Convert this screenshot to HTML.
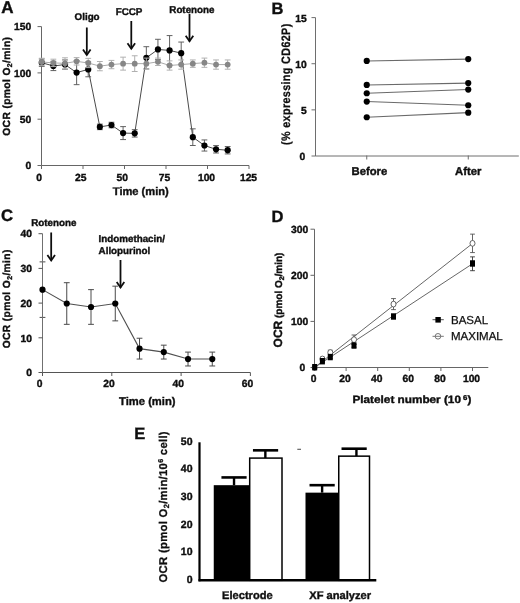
<!DOCTYPE html>
<html lang="en"><head><meta charset="utf-8"><title>Figure</title>
<style>
html,body{margin:0;padding:0;background:#fff;}
body{width:520px;height:603px;overflow:hidden;}
svg{display:block;}
svg text{font-family:"Liberation Sans",Arial,sans-serif;text-rendering:geometricPrecision;}
</style></head><body>
<svg width="520" height="603" viewBox="0 0 520 603">
<defs><filter id="soft" x="0" y="0" width="520" height="603" filterUnits="userSpaceOnUse"><feGaussianBlur stdDeviation="0.5"/></filter></defs>
<rect width="520" height="603" fill="#fff"/>
<g filter="url(#soft)">
<text x="1.20" y="13.30" font-size="17" font-weight="bold" text-anchor="start" fill="#111" stroke="#111" stroke-width="0.4" >A</text>
<line x1="41.50" y1="26.60" x2="41.50" y2="165.50" stroke="#666" stroke-width="1" />
<line x1="41.50" y1="165.50" x2="249.00" y2="165.50" stroke="#666" stroke-width="1" />
<line x1="37.50" y1="165.50" x2="41.50" y2="165.50" stroke="#666" stroke-width="1" />
<text x="31.20" y="169.10" font-size="10.3" font-weight="bold" text-anchor="end" fill="#111" stroke="#111" stroke-width="0.4" >0</text>
<line x1="37.50" y1="119.20" x2="41.50" y2="119.20" stroke="#666" stroke-width="1" />
<text x="31.20" y="122.80" font-size="10.3" font-weight="bold" text-anchor="end" fill="#111" stroke="#111" stroke-width="0.4" >50</text>
<line x1="37.50" y1="72.90" x2="41.50" y2="72.90" stroke="#666" stroke-width="1" />
<text x="31.20" y="76.50" font-size="10.3" font-weight="bold" text-anchor="end" fill="#111" stroke="#111" stroke-width="0.4" >100</text>
<line x1="37.50" y1="26.60" x2="41.50" y2="26.60" stroke="#666" stroke-width="1" />
<text x="31.20" y="30.20" font-size="10.3" font-weight="bold" text-anchor="end" fill="#111" stroke="#111" stroke-width="0.4" >150</text>
<line x1="41.50" y1="165.50" x2="41.50" y2="169.00" stroke="#666" stroke-width="1" />
<text x="39.00" y="181.30" font-size="10.3" font-weight="bold" text-anchor="middle" fill="#111" stroke="#111" stroke-width="0.4" >0</text>
<line x1="83.00" y1="165.50" x2="83.00" y2="169.00" stroke="#666" stroke-width="1" />
<text x="80.70" y="181.30" font-size="10.3" font-weight="bold" text-anchor="middle" fill="#111" stroke="#111" stroke-width="0.4" >25</text>
<line x1="124.50" y1="165.50" x2="124.50" y2="169.00" stroke="#666" stroke-width="1" />
<text x="122.20" y="181.30" font-size="10.3" font-weight="bold" text-anchor="middle" fill="#111" stroke="#111" stroke-width="0.4" >50</text>
<line x1="166.00" y1="165.50" x2="166.00" y2="169.00" stroke="#666" stroke-width="1" />
<text x="164.50" y="181.30" font-size="10.3" font-weight="bold" text-anchor="middle" fill="#111" stroke="#111" stroke-width="0.4" >75</text>
<line x1="207.50" y1="165.50" x2="207.50" y2="169.00" stroke="#666" stroke-width="1" />
<text x="206.50" y="181.30" font-size="10.3" font-weight="bold" text-anchor="middle" fill="#111" stroke="#111" stroke-width="0.4" >100</text>
<line x1="249.00" y1="165.50" x2="249.00" y2="169.00" stroke="#666" stroke-width="1" />
<text x="248.50" y="181.30" font-size="10.3" font-weight="bold" text-anchor="middle" fill="#111" stroke="#111" stroke-width="0.4" >125</text>
<text x="140.80" y="194.50" font-size="11.100000000000001" font-weight="bold" text-anchor="middle" fill="#111" stroke="#111" stroke-width="0.4" >Time (min)</text>
<text transform="translate(10.40,86.20) rotate(-90)" font-size="10.3" font-weight="bold" text-anchor="middle" fill="#111" stroke="#111" stroke-width="0.4" letter-spacing="0.35">OCR (pmol O<tspan font-size="7" dy="2">2</tspan><tspan dy="-2">/min)</tspan></text>
<line x1="41.75" y1="66.42" x2="41.75" y2="59.01" stroke="#5a5a5a" stroke-width="0.95" />
<line x1="38.85" y1="66.42" x2="44.65" y2="66.42" stroke="#5a5a5a" stroke-width="0.95" />
<line x1="38.85" y1="59.01" x2="44.65" y2="59.01" stroke="#5a5a5a" stroke-width="0.95" />
<line x1="53.37" y1="70.59" x2="53.37" y2="61.33" stroke="#5a5a5a" stroke-width="0.95" />
<line x1="50.47" y1="70.59" x2="56.27" y2="70.59" stroke="#5a5a5a" stroke-width="0.95" />
<line x1="50.47" y1="61.33" x2="56.27" y2="61.33" stroke="#5a5a5a" stroke-width="0.95" />
<line x1="64.99" y1="69.20" x2="64.99" y2="59.94" stroke="#5a5a5a" stroke-width="0.95" />
<line x1="62.09" y1="69.20" x2="67.89" y2="69.20" stroke="#5a5a5a" stroke-width="0.95" />
<line x1="62.09" y1="59.94" x2="67.89" y2="59.94" stroke="#5a5a5a" stroke-width="0.95" />
<line x1="76.61" y1="84.66" x2="76.61" y2="60.58" stroke="#5a5a5a" stroke-width="0.95" />
<line x1="73.71" y1="84.66" x2="79.51" y2="84.66" stroke="#5a5a5a" stroke-width="0.95" />
<line x1="73.71" y1="60.58" x2="79.51" y2="60.58" stroke="#5a5a5a" stroke-width="0.95" />
<line x1="88.23" y1="76.79" x2="88.23" y2="61.97" stroke="#5a5a5a" stroke-width="0.95" />
<line x1="85.33" y1="76.79" x2="91.13" y2="76.79" stroke="#5a5a5a" stroke-width="0.95" />
<line x1="85.33" y1="61.97" x2="91.13" y2="61.97" stroke="#5a5a5a" stroke-width="0.95" />
<line x1="99.85" y1="129.66" x2="99.85" y2="124.11" stroke="#5a5a5a" stroke-width="0.95" />
<line x1="96.95" y1="129.66" x2="102.75" y2="129.66" stroke="#5a5a5a" stroke-width="0.95" />
<line x1="96.95" y1="124.11" x2="102.75" y2="124.11" stroke="#5a5a5a" stroke-width="0.95" />
<line x1="111.47" y1="127.81" x2="111.47" y2="122.26" stroke="#5a5a5a" stroke-width="0.95" />
<line x1="108.57" y1="127.81" x2="114.37" y2="127.81" stroke="#5a5a5a" stroke-width="0.95" />
<line x1="108.57" y1="122.26" x2="114.37" y2="122.26" stroke="#5a5a5a" stroke-width="0.95" />
<line x1="123.09" y1="139.57" x2="123.09" y2="126.61" stroke="#5a5a5a" stroke-width="0.95" />
<line x1="120.19" y1="139.57" x2="125.99" y2="139.57" stroke="#5a5a5a" stroke-width="0.95" />
<line x1="120.19" y1="126.61" x2="125.99" y2="126.61" stroke="#5a5a5a" stroke-width="0.95" />
<line x1="134.71" y1="137.07" x2="134.71" y2="129.66" stroke="#5a5a5a" stroke-width="0.95" />
<line x1="131.81" y1="137.07" x2="137.61" y2="137.07" stroke="#5a5a5a" stroke-width="0.95" />
<line x1="131.81" y1="129.66" x2="137.61" y2="129.66" stroke="#5a5a5a" stroke-width="0.95" />
<line x1="146.33" y1="68.92" x2="146.33" y2="46.69" stroke="#5a5a5a" stroke-width="0.95" />
<line x1="143.43" y1="68.92" x2="149.23" y2="68.92" stroke="#5a5a5a" stroke-width="0.95" />
<line x1="143.43" y1="46.69" x2="149.23" y2="46.69" stroke="#5a5a5a" stroke-width="0.95" />
<line x1="157.95" y1="59.66" x2="157.95" y2="39.29" stroke="#5a5a5a" stroke-width="0.95" />
<line x1="155.05" y1="59.66" x2="160.85" y2="59.66" stroke="#5a5a5a" stroke-width="0.95" />
<line x1="155.05" y1="39.29" x2="160.85" y2="39.29" stroke="#5a5a5a" stroke-width="0.95" />
<line x1="169.57" y1="65.21" x2="169.57" y2="35.58" stroke="#5a5a5a" stroke-width="0.95" />
<line x1="166.67" y1="65.21" x2="172.47" y2="65.21" stroke="#5a5a5a" stroke-width="0.95" />
<line x1="166.67" y1="35.58" x2="172.47" y2="35.58" stroke="#5a5a5a" stroke-width="0.95" />
<line x1="181.19" y1="64.29" x2="181.19" y2="42.06" stroke="#5a5a5a" stroke-width="0.95" />
<line x1="178.29" y1="64.29" x2="184.09" y2="64.29" stroke="#5a5a5a" stroke-width="0.95" />
<line x1="178.29" y1="42.06" x2="184.09" y2="42.06" stroke="#5a5a5a" stroke-width="0.95" />
<line x1="192.81" y1="145.50" x2="192.81" y2="128.83" stroke="#5a5a5a" stroke-width="0.95" />
<line x1="189.91" y1="145.50" x2="195.71" y2="145.50" stroke="#5a5a5a" stroke-width="0.95" />
<line x1="189.91" y1="128.83" x2="195.71" y2="128.83" stroke="#5a5a5a" stroke-width="0.95" />
<line x1="204.43" y1="151.05" x2="204.43" y2="139.94" stroke="#5a5a5a" stroke-width="0.95" />
<line x1="201.53" y1="151.05" x2="207.33" y2="151.05" stroke="#5a5a5a" stroke-width="0.95" />
<line x1="201.53" y1="139.94" x2="207.33" y2="139.94" stroke="#5a5a5a" stroke-width="0.95" />
<line x1="216.05" y1="153.00" x2="216.05" y2="145.59" stroke="#5a5a5a" stroke-width="0.95" />
<line x1="213.15" y1="153.00" x2="218.95" y2="153.00" stroke="#5a5a5a" stroke-width="0.95" />
<line x1="213.15" y1="145.59" x2="218.95" y2="145.59" stroke="#5a5a5a" stroke-width="0.95" />
<line x1="227.67" y1="153.93" x2="227.67" y2="146.52" stroke="#5a5a5a" stroke-width="0.95" />
<line x1="224.77" y1="153.93" x2="230.57" y2="153.93" stroke="#5a5a5a" stroke-width="0.95" />
<line x1="224.77" y1="146.52" x2="230.57" y2="146.52" stroke="#5a5a5a" stroke-width="0.95" />
<polyline points="41.75,62.71 53.37,65.96 64.99,64.57 76.61,72.62 88.23,69.38 99.85,126.89 111.47,125.03 123.09,133.09 134.71,133.37 146.33,57.81 157.95,49.47 169.57,50.40 181.19,53.18 192.81,137.16 204.43,145.50 216.05,149.30 227.67,150.22" fill="none" stroke="#4a4a4a" stroke-width="1"/>
<circle cx="41.75" cy="62.71" r="3.1" fill="#000" stroke="none" stroke-width="1"/>
<circle cx="53.37" cy="65.96" r="3.1" fill="#000" stroke="none" stroke-width="1"/>
<circle cx="64.99" cy="64.57" r="3.1" fill="#000" stroke="none" stroke-width="1"/>
<circle cx="76.61" cy="72.62" r="3.1" fill="#000" stroke="none" stroke-width="1"/>
<circle cx="88.23" cy="69.38" r="3.1" fill="#000" stroke="none" stroke-width="1"/>
<circle cx="99.85" cy="126.89" r="3.1" fill="#000" stroke="none" stroke-width="1"/>
<circle cx="111.47" cy="125.03" r="3.1" fill="#000" stroke="none" stroke-width="1"/>
<circle cx="123.09" cy="133.09" r="3.1" fill="#000" stroke="none" stroke-width="1"/>
<circle cx="134.71" cy="133.37" r="3.1" fill="#000" stroke="none" stroke-width="1"/>
<circle cx="146.33" cy="57.81" r="3.1" fill="#000" stroke="none" stroke-width="1"/>
<circle cx="157.95" cy="49.47" r="3.1" fill="#000" stroke="none" stroke-width="1"/>
<circle cx="169.57" cy="50.40" r="3.1" fill="#000" stroke="none" stroke-width="1"/>
<circle cx="181.19" cy="53.18" r="3.1" fill="#000" stroke="none" stroke-width="1"/>
<circle cx="192.81" cy="137.16" r="3.1" fill="#000" stroke="none" stroke-width="1"/>
<circle cx="204.43" cy="145.50" r="3.1" fill="#000" stroke="none" stroke-width="1"/>
<circle cx="216.05" cy="149.30" r="3.1" fill="#000" stroke="none" stroke-width="1"/>
<circle cx="227.67" cy="150.22" r="3.1" fill="#000" stroke="none" stroke-width="1"/>
<line x1="41.75" y1="65.68" x2="41.75" y2="58.27" stroke="#b0b0b0" stroke-width="1.0" />
<line x1="38.85" y1="65.68" x2="44.65" y2="65.68" stroke="#b0b0b0" stroke-width="1.0" />
<line x1="38.85" y1="58.27" x2="44.65" y2="58.27" stroke="#b0b0b0" stroke-width="1.0" />
<line x1="53.37" y1="66.60" x2="53.37" y2="59.20" stroke="#b0b0b0" stroke-width="1.0" />
<line x1="50.47" y1="66.60" x2="56.27" y2="66.60" stroke="#b0b0b0" stroke-width="1.0" />
<line x1="50.47" y1="59.20" x2="56.27" y2="59.20" stroke="#b0b0b0" stroke-width="1.0" />
<line x1="64.99" y1="68.92" x2="64.99" y2="57.81" stroke="#b0b0b0" stroke-width="1.0" />
<line x1="62.09" y1="68.92" x2="67.89" y2="68.92" stroke="#b0b0b0" stroke-width="1.0" />
<line x1="62.09" y1="57.81" x2="67.89" y2="57.81" stroke="#b0b0b0" stroke-width="1.0" />
<line x1="76.61" y1="65.03" x2="76.61" y2="57.62" stroke="#b0b0b0" stroke-width="1.0" />
<line x1="73.71" y1="65.03" x2="79.51" y2="65.03" stroke="#b0b0b0" stroke-width="1.0" />
<line x1="73.71" y1="57.62" x2="79.51" y2="57.62" stroke="#b0b0b0" stroke-width="1.0" />
<line x1="88.23" y1="67.62" x2="88.23" y2="58.36" stroke="#b0b0b0" stroke-width="1.0" />
<line x1="85.33" y1="67.62" x2="91.13" y2="67.62" stroke="#b0b0b0" stroke-width="1.0" />
<line x1="85.33" y1="58.36" x2="91.13" y2="58.36" stroke="#b0b0b0" stroke-width="1.0" />
<line x1="99.85" y1="70.77" x2="99.85" y2="61.51" stroke="#b0b0b0" stroke-width="1.0" />
<line x1="96.95" y1="70.77" x2="102.75" y2="70.77" stroke="#b0b0b0" stroke-width="1.0" />
<line x1="96.95" y1="61.51" x2="102.75" y2="61.51" stroke="#b0b0b0" stroke-width="1.0" />
<line x1="111.47" y1="68.73" x2="111.47" y2="60.40" stroke="#b0b0b0" stroke-width="1.0" />
<line x1="108.57" y1="68.73" x2="114.37" y2="68.73" stroke="#b0b0b0" stroke-width="1.0" />
<line x1="108.57" y1="60.40" x2="114.37" y2="60.40" stroke="#b0b0b0" stroke-width="1.0" />
<line x1="123.09" y1="70.12" x2="123.09" y2="57.16" stroke="#b0b0b0" stroke-width="1.0" />
<line x1="120.19" y1="70.12" x2="125.99" y2="70.12" stroke="#b0b0b0" stroke-width="1.0" />
<line x1="120.19" y1="57.16" x2="125.99" y2="57.16" stroke="#b0b0b0" stroke-width="1.0" />
<line x1="134.71" y1="71.51" x2="134.71" y2="55.77" stroke="#b0b0b0" stroke-width="1.0" />
<line x1="131.81" y1="71.51" x2="137.61" y2="71.51" stroke="#b0b0b0" stroke-width="1.0" />
<line x1="131.81" y1="55.77" x2="137.61" y2="55.77" stroke="#b0b0b0" stroke-width="1.0" />
<line x1="146.33" y1="69.20" x2="146.33" y2="58.08" stroke="#b0b0b0" stroke-width="1.0" />
<line x1="143.43" y1="69.20" x2="149.23" y2="69.20" stroke="#b0b0b0" stroke-width="1.0" />
<line x1="143.43" y1="58.08" x2="149.23" y2="58.08" stroke="#b0b0b0" stroke-width="1.0" />
<line x1="157.95" y1="65.49" x2="157.95" y2="58.08" stroke="#b0b0b0" stroke-width="1.0" />
<line x1="155.05" y1="65.49" x2="160.85" y2="65.49" stroke="#b0b0b0" stroke-width="1.0" />
<line x1="155.05" y1="58.08" x2="160.85" y2="58.08" stroke="#b0b0b0" stroke-width="1.0" />
<line x1="169.57" y1="70.12" x2="169.57" y2="60.86" stroke="#b0b0b0" stroke-width="1.0" />
<line x1="166.67" y1="70.12" x2="172.47" y2="70.12" stroke="#b0b0b0" stroke-width="1.0" />
<line x1="166.67" y1="60.86" x2="172.47" y2="60.86" stroke="#b0b0b0" stroke-width="1.0" />
<line x1="181.19" y1="69.20" x2="181.19" y2="59.94" stroke="#b0b0b0" stroke-width="1.0" />
<line x1="178.29" y1="69.20" x2="184.09" y2="69.20" stroke="#b0b0b0" stroke-width="1.0" />
<line x1="178.29" y1="59.94" x2="184.09" y2="59.94" stroke="#b0b0b0" stroke-width="1.0" />
<line x1="192.81" y1="67.34" x2="192.81" y2="59.94" stroke="#b0b0b0" stroke-width="1.0" />
<line x1="189.91" y1="67.34" x2="195.71" y2="67.34" stroke="#b0b0b0" stroke-width="1.0" />
<line x1="189.91" y1="59.94" x2="195.71" y2="59.94" stroke="#b0b0b0" stroke-width="1.0" />
<line x1="204.43" y1="67.34" x2="204.43" y2="58.08" stroke="#b0b0b0" stroke-width="1.0" />
<line x1="201.53" y1="67.34" x2="207.33" y2="67.34" stroke="#b0b0b0" stroke-width="1.0" />
<line x1="201.53" y1="58.08" x2="207.33" y2="58.08" stroke="#b0b0b0" stroke-width="1.0" />
<line x1="216.05" y1="69.20" x2="216.05" y2="59.94" stroke="#b0b0b0" stroke-width="1.0" />
<line x1="213.15" y1="69.20" x2="218.95" y2="69.20" stroke="#b0b0b0" stroke-width="1.0" />
<line x1="213.15" y1="59.94" x2="218.95" y2="59.94" stroke="#b0b0b0" stroke-width="1.0" />
<line x1="227.67" y1="69.20" x2="227.67" y2="59.94" stroke="#b0b0b0" stroke-width="1.0" />
<line x1="224.77" y1="69.20" x2="230.57" y2="69.20" stroke="#b0b0b0" stroke-width="1.0" />
<line x1="224.77" y1="59.94" x2="230.57" y2="59.94" stroke="#b0b0b0" stroke-width="1.0" />
<polyline points="41.75,61.97 53.37,62.90 64.99,63.36 76.61,61.33 88.23,62.99 99.85,66.14 111.47,64.57 123.09,63.64 134.71,63.64 146.33,63.64 157.95,61.79 169.57,65.49 181.19,64.57 192.81,63.64 204.43,62.71 216.05,64.57 227.67,64.57" fill="none" stroke="#a0a0a0" stroke-width="0.9"/>
<circle cx="41.75" cy="61.97" r="2.9" fill="#868686" stroke="none" stroke-width="1"/>
<circle cx="53.37" cy="62.90" r="2.9" fill="#868686" stroke="none" stroke-width="1"/>
<circle cx="64.99" cy="63.36" r="2.9" fill="#868686" stroke="none" stroke-width="1"/>
<circle cx="76.61" cy="61.33" r="2.9" fill="#868686" stroke="none" stroke-width="1"/>
<circle cx="88.23" cy="62.99" r="2.9" fill="#868686" stroke="none" stroke-width="1"/>
<circle cx="99.85" cy="66.14" r="2.9" fill="#868686" stroke="none" stroke-width="1"/>
<circle cx="111.47" cy="64.57" r="2.9" fill="#868686" stroke="none" stroke-width="1"/>
<circle cx="123.09" cy="63.64" r="2.9" fill="#868686" stroke="none" stroke-width="1"/>
<circle cx="134.71" cy="63.64" r="2.9" fill="#868686" stroke="none" stroke-width="1"/>
<circle cx="146.33" cy="63.64" r="2.9" fill="#868686" stroke="none" stroke-width="1"/>
<circle cx="157.95" cy="61.79" r="2.9" fill="#868686" stroke="none" stroke-width="1"/>
<circle cx="169.57" cy="65.49" r="2.9" fill="#868686" stroke="none" stroke-width="1"/>
<circle cx="181.19" cy="64.57" r="2.9" fill="#868686" stroke="none" stroke-width="1"/>
<circle cx="192.81" cy="63.64" r="2.9" fill="#868686" stroke="none" stroke-width="1"/>
<circle cx="204.43" cy="62.71" r="2.9" fill="#868686" stroke="none" stroke-width="1"/>
<circle cx="216.05" cy="64.57" r="2.9" fill="#868686" stroke="none" stroke-width="1"/>
<circle cx="227.67" cy="64.57" r="2.9" fill="#868686" stroke="none" stroke-width="1"/>
<text x="87.10" y="20.30" font-size="9.8" font-weight="bold" text-anchor="middle" fill="#111" stroke="#111" stroke-width="0.4" >Oligo</text>
<line x1="86.80" y1="27.50" x2="86.80" y2="55.00" stroke="#0a0a0a" stroke-width="1.75" />
<polyline points="83.00,49.40 86.80,55.00 90.60,49.40" fill="none" stroke="#0a0a0a" stroke-width="1.75"/>
<text x="129.00" y="14.70" font-size="9.8" font-weight="bold" text-anchor="middle" fill="#111" stroke="#111" stroke-width="0.4" >FCCP</text>
<line x1="131.30" y1="21.00" x2="131.30" y2="48.80" stroke="#0a0a0a" stroke-width="1.75" />
<polyline points="127.50,43.20 131.30,48.80 135.10,43.20" fill="none" stroke="#0a0a0a" stroke-width="1.75"/>
<text x="191.90" y="12.50" font-size="9.8" font-weight="bold" text-anchor="middle" fill="#111" stroke="#111" stroke-width="0.4" >Rotenone</text>
<line x1="189.50" y1="13.80" x2="189.50" y2="41.30" stroke="#0a0a0a" stroke-width="1.75" />
<polyline points="185.70,35.70 189.50,41.30 193.30,35.70" fill="none" stroke="#0a0a0a" stroke-width="1.75"/>
<text x="271.50" y="13.60" font-size="16.5" font-weight="bold" text-anchor="start" fill="#111" stroke="#111" stroke-width="0.4" >B</text>
<line x1="315.50" y1="17.60" x2="315.50" y2="156.00" stroke="#6e6e6e" stroke-width="1" />
<line x1="315.50" y1="156.00" x2="518.80" y2="156.00" stroke="#6e6e6e" stroke-width="1" />
<line x1="311.50" y1="156.00" x2="315.50" y2="156.00" stroke="#6e6e6e" stroke-width="1" />
<text x="305.20" y="159.90" font-size="10.3" font-weight="bold" text-anchor="end" fill="#111" stroke="#111" stroke-width="0.4" >0</text>
<line x1="311.50" y1="109.87" x2="315.50" y2="109.87" stroke="#6e6e6e" stroke-width="1" />
<text x="306.70" y="113.77" font-size="10.3" font-weight="bold" text-anchor="end" fill="#111" stroke="#111" stroke-width="0.4" >5</text>
<line x1="311.50" y1="63.73" x2="315.50" y2="63.73" stroke="#6e6e6e" stroke-width="1" />
<text x="306.70" y="67.63" font-size="10.3" font-weight="bold" text-anchor="end" fill="#111" stroke="#111" stroke-width="0.4" >10</text>
<line x1="311.50" y1="17.60" x2="315.50" y2="17.60" stroke="#6e6e6e" stroke-width="1" />
<text x="306.70" y="21.50" font-size="10.3" font-weight="bold" text-anchor="end" fill="#111" stroke="#111" stroke-width="0.4" >15</text>
<line x1="366.75" y1="155.50" x2="366.75" y2="159.50" stroke="#6e6e6e" stroke-width="1" />
<line x1="468.25" y1="155.50" x2="468.25" y2="159.50" stroke="#6e6e6e" stroke-width="1" />
<text x="369.40" y="174.80" font-size="11.3" font-weight="bold" text-anchor="middle" fill="#111" stroke="#111" stroke-width="0.4" >Before</text>
<text x="468.30" y="174.80" font-size="11.3" font-weight="bold" text-anchor="middle" fill="#111" stroke="#111" stroke-width="0.4" >After</text>
<text transform="translate(289.6,84.2) scale(1.13,1) rotate(-90)" font-size="10.8" font-weight="bold" letter-spacing="0.35" text-anchor="middle" fill="#111" stroke="#111" stroke-width="0.25">(% expressing CD62P)</text>
<line x1="366.75" y1="60.97" x2="468.25" y2="59.12" stroke="#6a6a6a" stroke-width="1.1" />
<line x1="366.75" y1="84.95" x2="468.25" y2="83.11" stroke="#6a6a6a" stroke-width="1.1" />
<line x1="366.75" y1="93.26" x2="468.25" y2="89.57" stroke="#6a6a6a" stroke-width="1.1" />
<line x1="366.75" y1="101.56" x2="468.25" y2="105.25" stroke="#6a6a6a" stroke-width="1.1" />
<line x1="366.75" y1="117.25" x2="468.25" y2="112.63" stroke="#6a6a6a" stroke-width="1.1" />
<circle cx="366.75" cy="60.97" r="3.1" fill="#000" stroke="none" stroke-width="1"/>
<circle cx="468.25" cy="59.12" r="3.1" fill="#000" stroke="none" stroke-width="1"/>
<circle cx="366.75" cy="84.95" r="3.1" fill="#000" stroke="none" stroke-width="1"/>
<circle cx="468.25" cy="83.11" r="3.1" fill="#000" stroke="none" stroke-width="1"/>
<circle cx="366.75" cy="93.26" r="3.1" fill="#000" stroke="none" stroke-width="1"/>
<circle cx="468.25" cy="89.57" r="3.1" fill="#000" stroke="none" stroke-width="1"/>
<circle cx="366.75" cy="101.56" r="3.1" fill="#000" stroke="none" stroke-width="1"/>
<circle cx="468.25" cy="105.25" r="3.1" fill="#000" stroke="none" stroke-width="1"/>
<circle cx="366.75" cy="117.25" r="3.1" fill="#000" stroke="none" stroke-width="1"/>
<circle cx="468.25" cy="112.63" r="3.1" fill="#000" stroke="none" stroke-width="1"/>
<text x="0.90" y="221.20" font-size="16.7" font-weight="bold" text-anchor="start" fill="#111" stroke="#111" stroke-width="0.4" >C</text>
<line x1="42.50" y1="317.40" x2="42.50" y2="261.88" stroke="#4a4a4a" stroke-width="1.0" />
<line x1="39.60" y1="317.40" x2="45.40" y2="317.40" stroke="#4a4a4a" stroke-width="1.0" />
<line x1="39.60" y1="261.88" x2="45.40" y2="261.88" stroke="#4a4a4a" stroke-width="1.0" />
<line x1="66.75" y1="324.34" x2="66.75" y2="282.70" stroke="#4a4a4a" stroke-width="1.0" />
<line x1="63.85" y1="324.34" x2="69.66" y2="324.34" stroke="#4a4a4a" stroke-width="1.0" />
<line x1="63.85" y1="282.70" x2="69.66" y2="282.70" stroke="#4a4a4a" stroke-width="1.0" />
<line x1="91.01" y1="324.34" x2="91.01" y2="289.64" stroke="#4a4a4a" stroke-width="1.0" />
<line x1="88.11" y1="324.34" x2="93.91" y2="324.34" stroke="#4a4a4a" stroke-width="1.0" />
<line x1="88.11" y1="289.64" x2="93.91" y2="289.64" stroke="#4a4a4a" stroke-width="1.0" />
<line x1="115.27" y1="320.87" x2="115.27" y2="286.17" stroke="#4a4a4a" stroke-width="1.0" />
<line x1="112.36" y1="320.87" x2="118.17" y2="320.87" stroke="#4a4a4a" stroke-width="1.0" />
<line x1="112.36" y1="286.17" x2="118.17" y2="286.17" stroke="#4a4a4a" stroke-width="1.0" />
<line x1="139.52" y1="359.04" x2="139.52" y2="338.22" stroke="#4a4a4a" stroke-width="1.0" />
<line x1="136.62" y1="359.04" x2="142.42" y2="359.04" stroke="#4a4a4a" stroke-width="1.0" />
<line x1="136.62" y1="338.22" x2="142.42" y2="338.22" stroke="#4a4a4a" stroke-width="1.0" />
<line x1="163.77" y1="359.04" x2="163.77" y2="345.16" stroke="#4a4a4a" stroke-width="1.0" />
<line x1="160.87" y1="359.04" x2="166.67" y2="359.04" stroke="#4a4a4a" stroke-width="1.0" />
<line x1="160.87" y1="345.16" x2="166.67" y2="345.16" stroke="#4a4a4a" stroke-width="1.0" />
<line x1="188.03" y1="365.98" x2="188.03" y2="352.10" stroke="#4a4a4a" stroke-width="1.0" />
<line x1="185.13" y1="365.98" x2="190.93" y2="365.98" stroke="#4a4a4a" stroke-width="1.0" />
<line x1="185.13" y1="352.10" x2="190.93" y2="352.10" stroke="#4a4a4a" stroke-width="1.0" />
<line x1="212.28" y1="365.98" x2="212.28" y2="352.10" stroke="#4a4a4a" stroke-width="1.0" />
<line x1="209.38" y1="365.98" x2="215.19" y2="365.98" stroke="#4a4a4a" stroke-width="1.0" />
<line x1="209.38" y1="352.10" x2="215.19" y2="352.10" stroke="#4a4a4a" stroke-width="1.0" />
<line x1="42.50" y1="233.70" x2="42.50" y2="372.50" stroke="#707070" stroke-width="1" />
<line x1="42.50" y1="372.50" x2="250.40" y2="372.50" stroke="#555" stroke-width="1" />
<line x1="38.50" y1="372.50" x2="42.50" y2="372.50" stroke="#555" stroke-width="1" />
<text x="31.90" y="376.20" font-size="10.3" font-weight="bold" text-anchor="end" fill="#111" stroke="#111" stroke-width="0.4" >0</text>
<line x1="38.50" y1="337.80" x2="42.50" y2="337.80" stroke="#555" stroke-width="1" />
<text x="31.90" y="341.50" font-size="10.3" font-weight="bold" text-anchor="end" fill="#111" stroke="#111" stroke-width="0.4" >10</text>
<line x1="38.50" y1="303.10" x2="42.50" y2="303.10" stroke="#555" stroke-width="1" />
<text x="31.90" y="306.80" font-size="10.3" font-weight="bold" text-anchor="end" fill="#111" stroke="#111" stroke-width="0.4" >20</text>
<line x1="38.50" y1="268.40" x2="42.50" y2="268.40" stroke="#555" stroke-width="1" />
<text x="31.90" y="272.10" font-size="10.3" font-weight="bold" text-anchor="end" fill="#111" stroke="#111" stroke-width="0.4" >30</text>
<line x1="38.50" y1="233.70" x2="42.50" y2="233.70" stroke="#555" stroke-width="1" />
<text x="31.90" y="237.40" font-size="10.3" font-weight="bold" text-anchor="end" fill="#111" stroke="#111" stroke-width="0.4" >40</text>
<line x1="42.50" y1="372.50" x2="42.50" y2="376.00" stroke="#555" stroke-width="1" />
<text x="39.70" y="386.80" font-size="10.3" font-weight="bold" text-anchor="middle" fill="#111" stroke="#111" stroke-width="0.4" >0</text>
<line x1="111.80" y1="372.50" x2="111.80" y2="376.00" stroke="#555" stroke-width="1" />
<text x="109.00" y="386.80" font-size="10.3" font-weight="bold" text-anchor="middle" fill="#111" stroke="#111" stroke-width="0.4" >20</text>
<line x1="181.10" y1="372.50" x2="181.10" y2="376.00" stroke="#555" stroke-width="1" />
<text x="178.30" y="386.80" font-size="10.3" font-weight="bold" text-anchor="middle" fill="#111" stroke="#111" stroke-width="0.4" >40</text>
<line x1="250.40" y1="372.50" x2="250.40" y2="376.00" stroke="#555" stroke-width="1" />
<text x="247.60" y="386.80" font-size="10.3" font-weight="bold" text-anchor="middle" fill="#111" stroke="#111" stroke-width="0.4" >60</text>
<text x="147.30" y="405.30" font-size="11.200000000000001" font-weight="bold" text-anchor="middle" fill="#111" stroke="#111" stroke-width="0.4" >Time (min)</text>
<text transform="translate(10.20,298.80) rotate(-90)" font-size="10.3" font-weight="bold" text-anchor="middle" fill="#111" stroke="#111" stroke-width="0.4" letter-spacing="0.35">OCR (pmol O<tspan font-size="7" dy="2">2</tspan><tspan dy="-2">/min)</tspan></text>
<polyline points="42.50,289.64 66.75,303.52 91.01,306.99 115.27,303.52 139.52,348.63 163.77,352.10 188.03,359.04 212.28,359.04" fill="none" stroke="#505050" stroke-width="1.1"/>
<circle cx="42.50" cy="289.64" r="3.1" fill="#000" stroke="none" stroke-width="1"/>
<circle cx="66.75" cy="303.52" r="3.1" fill="#000" stroke="none" stroke-width="1"/>
<circle cx="91.01" cy="306.99" r="3.1" fill="#000" stroke="none" stroke-width="1"/>
<circle cx="115.27" cy="303.52" r="3.1" fill="#000" stroke="none" stroke-width="1"/>
<circle cx="139.52" cy="348.63" r="3.1" fill="#000" stroke="none" stroke-width="1"/>
<circle cx="163.77" cy="352.10" r="3.1" fill="#000" stroke="none" stroke-width="1"/>
<circle cx="188.03" cy="359.04" r="3.1" fill="#000" stroke="none" stroke-width="1"/>
<circle cx="212.28" cy="359.04" r="3.1" fill="#000" stroke="none" stroke-width="1"/>
<text x="31.30" y="226.20" font-size="9.8" font-weight="bold" text-anchor="start" fill="#111" stroke="#111" stroke-width="0.4" >Rotenone</text>
<line x1="51.20" y1="232.50" x2="51.20" y2="260.50" stroke="#0a0a0a" stroke-width="1.75" />
<polyline points="47.40,254.90 51.20,260.50 55.00,254.90" fill="none" stroke="#0a0a0a" stroke-width="1.75"/>
<text x="98.60" y="241.90" font-size="9.8" font-weight="bold" text-anchor="start" fill="#111" stroke="#111" stroke-width="0.4" >Indomethacin/</text>
<text x="98.60" y="254.30" font-size="9.8" font-weight="bold" text-anchor="start" fill="#111" stroke="#111" stroke-width="0.4" >Allopurinol</text>
<line x1="120.50" y1="260.00" x2="120.50" y2="287.50" stroke="#0a0a0a" stroke-width="1.75" />
<polyline points="116.70,281.90 120.50,287.50 124.30,281.90" fill="none" stroke="#0a0a0a" stroke-width="1.75"/>
<text x="271.50" y="221.80" font-size="16.5" font-weight="bold" text-anchor="start" fill="#111" stroke="#111" stroke-width="0.4" >D</text>
<line x1="314.50" y1="229.20" x2="314.50" y2="367.50" stroke="#666" stroke-width="1" />
<line x1="314.50" y1="367.50" x2="488.30" y2="367.50" stroke="#666" stroke-width="1" />
<line x1="310.50" y1="367.50" x2="314.50" y2="367.50" stroke="#666" stroke-width="1" />
<text x="305.20" y="370.80" font-size="10.3" font-weight="bold" text-anchor="end" fill="#111" stroke="#111" stroke-width="0.4" >0</text>
<line x1="310.50" y1="321.40" x2="314.50" y2="321.40" stroke="#666" stroke-width="1" />
<text x="308.20" y="324.70" font-size="10.3" font-weight="bold" text-anchor="end" fill="#111" stroke="#111" stroke-width="0.4" >100</text>
<line x1="310.50" y1="275.30" x2="314.50" y2="275.30" stroke="#666" stroke-width="1" />
<text x="308.20" y="278.60" font-size="10.3" font-weight="bold" text-anchor="end" fill="#111" stroke="#111" stroke-width="0.4" >200</text>
<line x1="310.50" y1="229.20" x2="314.50" y2="229.20" stroke="#666" stroke-width="1" />
<text x="308.20" y="232.50" font-size="10.3" font-weight="bold" text-anchor="end" fill="#111" stroke="#111" stroke-width="0.4" >300</text>
<line x1="314.50" y1="367.50" x2="314.50" y2="371.00" stroke="#666" stroke-width="1" />
<text x="313.50" y="382.20" font-size="10.3" font-weight="bold" text-anchor="middle" fill="#111" stroke="#111" stroke-width="0.4" >0</text>
<line x1="346.10" y1="367.50" x2="346.10" y2="371.00" stroke="#666" stroke-width="1" />
<text x="345.10" y="382.20" font-size="10.3" font-weight="bold" text-anchor="middle" fill="#111" stroke="#111" stroke-width="0.4" >20</text>
<line x1="377.70" y1="367.50" x2="377.70" y2="371.00" stroke="#666" stroke-width="1" />
<text x="376.70" y="382.20" font-size="10.3" font-weight="bold" text-anchor="middle" fill="#111" stroke="#111" stroke-width="0.4" >40</text>
<line x1="409.30" y1="367.50" x2="409.30" y2="371.00" stroke="#666" stroke-width="1" />
<text x="408.30" y="382.20" font-size="10.3" font-weight="bold" text-anchor="middle" fill="#111" stroke="#111" stroke-width="0.4" >60</text>
<line x1="440.90" y1="367.50" x2="440.90" y2="371.00" stroke="#666" stroke-width="1" />
<text x="439.90" y="382.20" font-size="10.3" font-weight="bold" text-anchor="middle" fill="#111" stroke="#111" stroke-width="0.4" >80</text>
<line x1="472.50" y1="367.50" x2="472.50" y2="371.00" stroke="#666" stroke-width="1" />
<text x="471.50" y="382.20" font-size="10.3" font-weight="bold" text-anchor="middle" fill="#111" stroke="#111" stroke-width="0.4" >100</text>
<text transform="translate(411.9,403.3) scale(1.11,1)" font-size="10.6" font-weight="bold" text-anchor="middle" fill="#111" stroke="#111" stroke-width="0.4">Platelet number (10<tspan font-size="7" dy="-3.5"> 6</tspan><tspan dy="3.5">)</tspan></text>
<text transform="translate(281.5,300) rotate(-90)" font-size="10" font-weight="bold" text-anchor="middle" fill="#111" stroke="#111" stroke-width="0.4"><tspan font-size="12">OCR</tspan> (pmol O<tspan font-size="6.8" dy="2">2</tspan><tspan dy="-2">/min)</tspan></text>
<line x1="314.50" y1="367.50" x2="472.50" y2="263.77" stroke="#555" stroke-width="0.9" />
<line x1="314.50" y1="367.50" x2="472.50" y2="243.49" stroke="#555" stroke-width="0.9" />
<ellipse cx="314.66" cy="367.50" rx="2.5" ry="2.9" fill="#fff" stroke="#555" stroke-width="0.9"/>
<line x1="322.40" y1="360.82" x2="322.40" y2="357.13" stroke="#555" stroke-width="0.9" />
<line x1="320.00" y1="360.82" x2="324.80" y2="360.82" stroke="#555" stroke-width="0.9" />
<line x1="320.00" y1="357.13" x2="324.80" y2="357.13" stroke="#555" stroke-width="0.9" />
<ellipse cx="322.40" cy="358.97" rx="2.5" ry="2.9" fill="#fff" stroke="#555" stroke-width="0.9"/>
<line x1="330.30" y1="354.82" x2="330.30" y2="350.21" stroke="#555" stroke-width="0.9" />
<line x1="327.90" y1="354.82" x2="332.70" y2="354.82" stroke="#555" stroke-width="0.9" />
<line x1="327.90" y1="350.21" x2="332.70" y2="350.21" stroke="#555" stroke-width="0.9" />
<ellipse cx="330.30" cy="352.52" rx="2.5" ry="2.9" fill="#fff" stroke="#555" stroke-width="0.9"/>
<line x1="354.00" y1="344.22" x2="354.00" y2="335.00" stroke="#555" stroke-width="0.9" />
<line x1="351.60" y1="344.22" x2="356.40" y2="344.22" stroke="#555" stroke-width="0.9" />
<line x1="351.60" y1="335.00" x2="356.40" y2="335.00" stroke="#555" stroke-width="0.9" />
<ellipse cx="354.00" cy="339.61" rx="2.5" ry="2.9" fill="#fff" stroke="#555" stroke-width="0.9"/>
<line x1="393.50" y1="309.64" x2="393.50" y2="298.58" stroke="#555" stroke-width="0.9" />
<line x1="391.10" y1="309.64" x2="395.90" y2="309.64" stroke="#555" stroke-width="0.9" />
<line x1="391.10" y1="298.58" x2="395.90" y2="298.58" stroke="#555" stroke-width="0.9" />
<ellipse cx="393.50" cy="304.11" rx="2.5" ry="2.9" fill="#fff" stroke="#555" stroke-width="0.9"/>
<line x1="472.50" y1="252.57" x2="472.50" y2="234.13" stroke="#555" stroke-width="0.9" />
<line x1="470.10" y1="252.57" x2="474.90" y2="252.57" stroke="#555" stroke-width="0.9" />
<line x1="470.10" y1="234.13" x2="474.90" y2="234.13" stroke="#555" stroke-width="0.9" />
<ellipse cx="472.50" cy="243.35" rx="2.5" ry="2.9" fill="#fff" stroke="#555" stroke-width="0.9"/>
<rect x="312.16" y="364.00" width="5" height="6.4" fill="#000"/>
<line x1="322.40" y1="362.43" x2="322.40" y2="360.58" stroke="#333" stroke-width="0.9" />
<line x1="320.00" y1="362.43" x2="324.80" y2="362.43" stroke="#333" stroke-width="0.9" />
<line x1="320.00" y1="360.58" x2="324.80" y2="360.58" stroke="#333" stroke-width="0.9" />
<rect x="319.90" y="358.01" width="5" height="6.4" fill="#000"/>
<line x1="330.30" y1="358.28" x2="330.30" y2="356.44" stroke="#333" stroke-width="0.9" />
<line x1="327.90" y1="358.28" x2="332.70" y2="358.28" stroke="#333" stroke-width="0.9" />
<line x1="327.90" y1="356.44" x2="332.70" y2="356.44" stroke="#333" stroke-width="0.9" />
<rect x="327.80" y="353.86" width="5" height="6.4" fill="#000"/>
<line x1="354.00" y1="347.22" x2="354.00" y2="344.45" stroke="#333" stroke-width="0.9" />
<line x1="351.60" y1="347.22" x2="356.40" y2="347.22" stroke="#333" stroke-width="0.9" />
<line x1="351.60" y1="344.45" x2="356.40" y2="344.45" stroke="#333" stroke-width="0.9" />
<rect x="351.50" y="342.33" width="5" height="6.4" fill="#000"/>
<line x1="393.50" y1="318.17" x2="393.50" y2="315.41" stroke="#333" stroke-width="0.9" />
<line x1="391.10" y1="318.17" x2="395.90" y2="318.17" stroke="#333" stroke-width="0.9" />
<line x1="391.10" y1="315.41" x2="395.90" y2="315.41" stroke="#333" stroke-width="0.9" />
<rect x="391.00" y="313.29" width="5" height="6.4" fill="#000"/>
<line x1="472.50" y1="270.69" x2="472.50" y2="256.86" stroke="#333" stroke-width="0.9" />
<line x1="470.10" y1="270.69" x2="474.90" y2="270.69" stroke="#333" stroke-width="0.9" />
<line x1="470.10" y1="256.86" x2="474.90" y2="256.86" stroke="#333" stroke-width="0.9" />
<rect x="470.00" y="260.27" width="5" height="6.4" fill="#000"/>
<line x1="432.50" y1="319.70" x2="443.80" y2="319.70" stroke="#555" stroke-width="1" />
<rect x="435.4" y="317" width="5.4" height="5.6" fill="#000"/>
<text x="451.00" y="323.80" font-size="11.5" font-weight="normal" text-anchor="start" fill="#111"  stroke="#111" stroke-width="0.25">BASAL</text>
<circle cx="438.00" cy="336.30" r="2.8" fill="#fff" stroke="#666" stroke-width="0.9"/>
<line x1="432.50" y1="336.30" x2="443.80" y2="336.30" stroke="#777" stroke-width="1" />
<text x="451.00" y="340.40" font-size="11.5" font-weight="normal" text-anchor="start" fill="#111"  stroke="#111" stroke-width="0.25">MAXIMAL</text>
<text x="134.30" y="439.00" font-size="16.5" font-weight="bold" text-anchor="start" fill="#111" stroke="#111" stroke-width="0.4" >E</text>
<text transform="translate(166.8,506.8) rotate(-90)" font-size="11.3" font-weight="bold" letter-spacing="0.3" text-anchor="middle" fill="#111" stroke="#111" stroke-width="0.3">OCR (pmol O<tspan font-size="7.5" dy="2">2</tspan><tspan dy="-2">/min/10</tspan><tspan font-size="7" dy="-4">6</tspan><tspan dy="4"> cell)</tspan></text>
<text x="192.50" y="582.90" font-size="10.5" font-weight="bold" text-anchor="end" fill="#111" stroke="#111" stroke-width="0.4" >0</text>
<text x="192.50" y="555.25" font-size="10.5" font-weight="bold" text-anchor="end" fill="#111" stroke="#111" stroke-width="0.4" >10</text>
<text x="192.50" y="527.60" font-size="10.5" font-weight="bold" text-anchor="end" fill="#111" stroke="#111" stroke-width="0.4" >20</text>
<text x="192.50" y="499.95" font-size="10.5" font-weight="bold" text-anchor="end" fill="#111" stroke="#111" stroke-width="0.4" >30</text>
<text x="192.50" y="472.30" font-size="10.5" font-weight="bold" text-anchor="end" fill="#111" stroke="#111" stroke-width="0.4" >40</text>
<text x="192.50" y="444.65" font-size="10.5" font-weight="bold" text-anchor="end" fill="#111" stroke="#111" stroke-width="0.4" >50</text>
<line x1="234.03" y1="485.18" x2="234.03" y2="477.44" stroke="#000" stroke-width="2.4" />
<line x1="221.43" y1="477.44" x2="246.62" y2="477.44" stroke="#000" stroke-width="2.6" />
<rect x="213.75" y="485.18" width="35.95" height="95.12" fill="#000"/>
<line x1="265.35" y1="458.09" x2="265.35" y2="450.34" stroke="#000" stroke-width="2.4" />
<line x1="252.95" y1="450.34" x2="278.15" y2="450.34" stroke="#000" stroke-width="2.6" />
<rect x="249.70" y="458.09" width="32.30" height="122.21" fill="#fff" stroke="#000" stroke-width="1.5"/>
<line x1="322.12" y1="492.65" x2="322.12" y2="485.18" stroke="#000" stroke-width="2.4" />
<line x1="309.52" y1="485.18" x2="334.73" y2="485.18" stroke="#000" stroke-width="2.6" />
<rect x="305.50" y="492.65" width="33.25" height="87.65" fill="#000"/>
<line x1="356.43" y1="456.15" x2="356.43" y2="448.69" stroke="#000" stroke-width="2.4" />
<line x1="341.52" y1="448.69" x2="366.73" y2="448.69" stroke="#000" stroke-width="2.6" />
<rect x="338.75" y="456.15" width="30.75" height="124.15" fill="#fff" stroke="#000" stroke-width="1.5"/>
<line x1="199.50" y1="442.30" x2="199.50" y2="581.30" stroke="#000" stroke-width="2.2" />
<line x1="198.50" y1="580.30" x2="376.30" y2="580.30" stroke="#000" stroke-width="2.5" />
<line x1="297.30" y1="449.30" x2="301.00" y2="449.30" stroke="#555" stroke-width="1.1" />
<text x="247.40" y="598.60" font-size="11.1" font-weight="bold" text-anchor="middle" fill="#111" stroke="#111" stroke-width="0.4" >Electrode</text>
<text x="340.20" y="598.60" font-size="11.1" font-weight="bold" text-anchor="middle" fill="#111" stroke="#111" stroke-width="0.4" >XF analyzer</text>
</g>
</svg>
</body></html>
